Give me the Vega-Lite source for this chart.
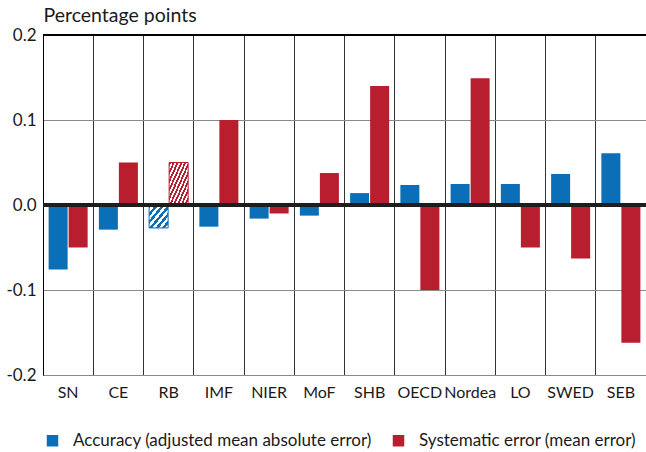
{
  "$schema": "https://vega.github.io/schema/vega-lite/v6.json",
  "width": 603,
  "height": 340,
  "autosize": "none",
  "padding": {"left": 43, "top": 35, "right": 0, "bottom": 77},
  "background": "white",
  "config": {
    "view": {"stroke": null},
    "font": "Lato",
    "axis": {"labelFont": "Lato", "titleFont": "Lato", "labelColor": "#1a1a1a", "titleColor": "#1a1a1a"},
    "legend": {"labelFont": "Lato"}
  },
  "data": {
    "values": [
      {"forecaster": "SN", "measure": "Accuracy (adjusted mean absolute error)", "value": -0.076},
      {"forecaster": "SN", "measure": "Systematic error (mean error)", "value": -0.050},
      {"forecaster": "CE", "measure": "Accuracy (adjusted mean absolute error)", "value": -0.029},
      {"forecaster": "CE", "measure": "Systematic error (mean error)", "value": 0.050},
      {"forecaster": "RB", "measure": "Accuracy (adjusted mean absolute error)", "value": -0.027},
      {"forecaster": "RB", "measure": "Systematic error (mean error)", "value": 0.050},
      {"forecaster": "IMF", "measure": "Accuracy (adjusted mean absolute error)", "value": -0.0255},
      {"forecaster": "IMF", "measure": "Systematic error (mean error)", "value": 0.100},
      {"forecaster": "NIER", "measure": "Accuracy (adjusted mean absolute error)", "value": -0.016},
      {"forecaster": "NIER", "measure": "Systematic error (mean error)", "value": -0.010},
      {"forecaster": "MoF", "measure": "Accuracy (adjusted mean absolute error)", "value": -0.0125},
      {"forecaster": "MoF", "measure": "Systematic error (mean error)", "value": 0.0376},
      {"forecaster": "SHB", "measure": "Accuracy (adjusted mean absolute error)", "value": 0.014},
      {"forecaster": "SHB", "measure": "Systematic error (mean error)", "value": 0.140},
      {"forecaster": "OECD", "measure": "Accuracy (adjusted mean absolute error)", "value": 0.0235},
      {"forecaster": "OECD", "measure": "Systematic error (mean error)", "value": -0.100},
      {"forecaster": "Nordea", "measure": "Accuracy (adjusted mean absolute error)", "value": 0.0247},
      {"forecaster": "Nordea", "measure": "Systematic error (mean error)", "value": 0.149},
      {"forecaster": "LO", "measure": "Accuracy (adjusted mean absolute error)", "value": 0.0247},
      {"forecaster": "LO", "measure": "Systematic error (mean error)", "value": -0.050},
      {"forecaster": "SWED", "measure": "Accuracy (adjusted mean absolute error)", "value": 0.0365},
      {"forecaster": "SWED", "measure": "Systematic error (mean error)", "value": -0.063},
      {"forecaster": "SEB", "measure": "Accuracy (adjusted mean absolute error)", "value": 0.061},
      {"forecaster": "SEB", "measure": "Systematic error (mean error)", "value": -0.162}
    ]
  },
  "layer": [
    {
      "encoding": {
        "x": {
          "field": "forecaster", "type": "nominal",
          "sort": ["SN", "CE", "RB", "IMF", "NIER", "MoF", "SHB", "OECD", "Nordea", "LO", "SWED", "SEB"],
          "scale": {"paddingInner": 0, "paddingOuter": 0},
          "axis": {
            "title": null, "domain": false, "ticks": false, "labelAngle": 0,
            "labelFontSize": 16, "labelPadding": 9,
            "grid": true, "bandPosition": 0, "gridColor": "#333333", "gridWidth": 1
          }
        },
        "xOffset": {
          "field": "measure", "type": "nominal",
          "scale": {"domain": ["Accuracy (adjusted mean absolute error)", "Systematic error (mean error)"], "paddingInner": 0.05, "paddingOuter": 0.28}
        },
        "y": {
          "field": "value", "type": "quantitative",
          "scale": {"domain": [-0.2, 0.2], "nice": false, "zero": false},
          "axis": {
            "values": [-0.2, -0.1, 0, 0.1, 0.2],
            "labelExpr": "replace(format(datum.value, '.1f'), '\u2212', '-')",
            "labelFontSize": 17, "labelPadding": 7, "ticks": false,
            "domainColor": "#000000", "domainWidth": 1,
            "gridColor": "#8a8a8a", "gridWidth": 1,
            "title": "Percentage points", "titleAngle": 0, "titleAlign": "left",
            "titleBaseline": "alphabetic", "titleX": 0, "titleY": -14,
            "titleFontSize": 19.5, "titleFontWeight": "normal"
          }
        }
      },
      "layer": [
        {
          "transform": [{"filter": "datum.forecaster !== 'RB'"}],
          "mark": {"type": "bar", "width": {"band": 1}},
          "encoding": {
            "color": {
              "field": "measure", "type": "nominal",
              "scale": {"domain": ["Accuracy (adjusted mean absolute error)", "Systematic error (mean error)"], "range": ["#0b6fb8", "#b81e2d"]},
              "legend": {
                "title": null, "orient": "none", "direction": "horizontal",
                "legendX": 1, "legendY": 397, "padding": 0,
                "symbolType": "square", "symbolSize": 132, "symbolStrokeWidth": 0,
                "labelFontSize": 17, "labelColor": "#1a1a1a", "labelOffset": 12,
                "columnPadding": 18, "labelLimit": 400
              }
            }
          }
        },
        {
          "transform": [{"filter": "datum.forecaster === 'RB' && datum.measure === 'Accuracy (adjusted mean absolute error)'"}],
          "mark": {
            "type": "bar", "stroke": "#0b6fb8", "strokeWidth": 1,
            "fill": {
              "gradient": "linear", "x1": 0, "y1": 0, "x2": 1, "y2": 1,
              "stops": [
                {"offset": 0, "color": "#0b6fb8"}, {"offset": 0.0833, "color": "#0b6fb8"},
                {"offset": 0.0833, "color": "#ffffff"}, {"offset": 0.1667, "color": "#ffffff"},
                {"offset": 0.1667, "color": "#0b6fb8"}, {"offset": 0.25, "color": "#0b6fb8"},
                {"offset": 0.25, "color": "#ffffff"}, {"offset": 0.3333, "color": "#ffffff"},
                {"offset": 0.3333, "color": "#0b6fb8"}, {"offset": 0.4167, "color": "#0b6fb8"},
                {"offset": 0.4167, "color": "#ffffff"}, {"offset": 0.5, "color": "#ffffff"},
                {"offset": 0.5, "color": "#0b6fb8"}, {"offset": 0.5833, "color": "#0b6fb8"},
                {"offset": 0.5833, "color": "#ffffff"}, {"offset": 0.6667, "color": "#ffffff"},
                {"offset": 0.6667, "color": "#0b6fb8"}, {"offset": 0.75, "color": "#0b6fb8"},
                {"offset": 0.75, "color": "#ffffff"}, {"offset": 0.8333, "color": "#ffffff"},
                {"offset": 0.8333, "color": "#0b6fb8"}, {"offset": 0.9167, "color": "#0b6fb8"},
                {"offset": 0.9167, "color": "#ffffff"}, {"offset": 1, "color": "#ffffff"}
              ]
            }
          }
        },
        {
          "transform": [{"filter": "datum.forecaster === 'RB' && datum.measure === 'Systematic error (mean error)'"}],
          "mark": {
            "type": "bar", "stroke": "#b81e2d", "strokeWidth": 1,
            "fill": {
              "gradient": "linear", "x1": 0, "y1": 0, "x2": 1, "y2": 1,
              "stops": [
                {"offset": 0, "color": "#b81e2d"}, {"offset": 0.05, "color": "#b81e2d"},
                {"offset": 0.05, "color": "#ffffff"}, {"offset": 0.1, "color": "#ffffff"},
                {"offset": 0.1, "color": "#b81e2d"}, {"offset": 0.15, "color": "#b81e2d"},
                {"offset": 0.15, "color": "#ffffff"}, {"offset": 0.2, "color": "#ffffff"},
                {"offset": 0.2, "color": "#b81e2d"}, {"offset": 0.25, "color": "#b81e2d"},
                {"offset": 0.25, "color": "#ffffff"}, {"offset": 0.3, "color": "#ffffff"},
                {"offset": 0.3, "color": "#b81e2d"}, {"offset": 0.35, "color": "#b81e2d"},
                {"offset": 0.35, "color": "#ffffff"}, {"offset": 0.4, "color": "#ffffff"},
                {"offset": 0.4, "color": "#b81e2d"}, {"offset": 0.45, "color": "#b81e2d"},
                {"offset": 0.45, "color": "#ffffff"}, {"offset": 0.5, "color": "#ffffff"},
                {"offset": 0.5, "color": "#b81e2d"}, {"offset": 0.55, "color": "#b81e2d"},
                {"offset": 0.55, "color": "#ffffff"}, {"offset": 0.6, "color": "#ffffff"},
                {"offset": 0.6, "color": "#b81e2d"}, {"offset": 0.65, "color": "#b81e2d"},
                {"offset": 0.65, "color": "#ffffff"}, {"offset": 0.7, "color": "#ffffff"},
                {"offset": 0.7, "color": "#b81e2d"}, {"offset": 0.75, "color": "#b81e2d"},
                {"offset": 0.75, "color": "#ffffff"}, {"offset": 0.8, "color": "#ffffff"},
                {"offset": 0.8, "color": "#b81e2d"}, {"offset": 0.85, "color": "#b81e2d"},
                {"offset": 0.85, "color": "#ffffff"}, {"offset": 0.9, "color": "#ffffff"},
                {"offset": 0.9, "color": "#b81e2d"}, {"offset": 0.95, "color": "#b81e2d"},
                {"offset": 0.95, "color": "#ffffff"}, {"offset": 1, "color": "#ffffff"}
              ]
            }
          }
        }
      ]
    },
    {
      "mark": {"type": "rule", "color": "#1e1e1e", "strokeWidth": 2.5},
      "encoding": {"y": {"datum": 0}}
    },
    {
      "mark": {"type": "rule", "color": "#000000", "strokeWidth": 1},
      "encoding": {"y": {"datum": 0.2}}
    }
  ]
}
